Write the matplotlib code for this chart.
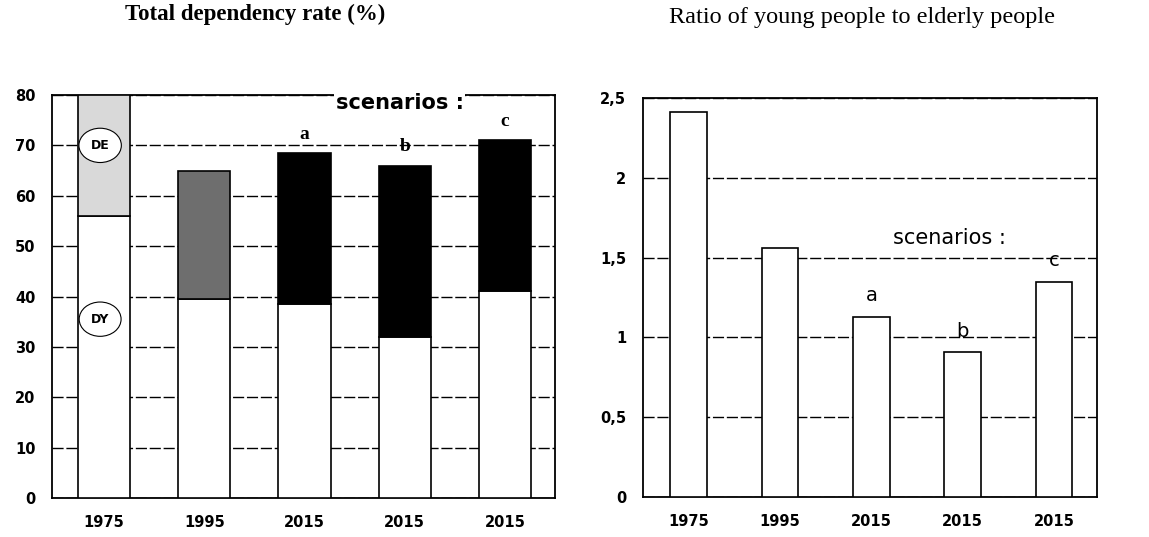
import matplotlib.pyplot as plt
import numpy as np

# data
years = ['1975', '1995', '2015', '2015', '2015']
scen = ['', '', 'a', 'b', 'c']
dy = [56, 39.5, 38.5, 32, 41]          # young dependency (lower part)
total = [80, 65, 68.5, 66, 71]         # total dependency rate
de = [t - y for t, y in zip(total, dy)]  # elderly dependency (upper part)
ratio = [2.41, 1.56, 1.13, 0.91, 1.35]  # young / elderly

de_colors = ['#d9d9d9', '#6e6e6e', 'black', 'black', 'black']

fig = plt.figure(figsize=(11.49, 5.37), dpi=100)
serif = ['Liberation Serif', 'DejaVu Serif']
x = np.arange(len(years))

# ---- left: total dependency rate
ax1 = fig.add_axes([0.0453, 0.0726, 0.4377, 0.7505])
ax1.bar(x, dy, width=0.52, color='white', edgecolor='black', linewidth=1.2, zorder=3)
ax1.bar(x, de, width=0.52, bottom=dy, color=de_colors, edgecolor='black', linewidth=1.2, zorder=3)
ax1.set_ylim(0, 80)
ax1.set_xlim(-0.52, 4.5)
ax1.set_yticks(range(0, 90, 10))
ax1.yaxis.grid(True, color='black', linewidth=1.0, linestyle=(0, (8, 2)))
ax1.set_axisbelow(True)
fig.text(255 / 1149, 1 - 14 / 537, 'Total dependency rate (%)', family=serif,
         fontsize=16.5, fontweight='bold', ha='center', va='center')
for i, s in enumerate(scen):
    if s:
        ax1.text(i, total[i] + 2, s, ha='center', va='bottom', fontsize=14,
                 fontweight='bold', family=serif)
ax1.text(2.95, 78.5, 'scenarios :', ha='center', va='center', fontsize=15,
         family=['DejaVu Sans'], fontweight='bold',
         bbox=dict(facecolor='white', edgecolor='none', pad=1), zorder=5)
for lbl, yv in [('DE', 70), ('DY', 35.5)]:
    ax1.text(-0.04, yv, lbl, ha='center', va='center', fontsize=9, fontweight='bold',
             bbox=dict(boxstyle='ellipse,pad=0.45', facecolor='white', edgecolor='black',
                       linewidth=0.8), zorder=6)

# ---- right: ratio young / elderly
ax2 = fig.add_axes([0.5596, 0.0745, 0.3951, 0.743])
ax2.bar(x, ratio, width=0.4, color='white', edgecolor='black', linewidth=1.2, zorder=3)
ax2.set_ylim(0, 2.5)
ax2.set_xlim(-0.5, 4.47)
ax2.set_yticks([0, 0.5, 1, 1.5, 2, 2.5])
ax2.set_yticklabels(['0', '0,5', '1', '1,5', '2', '2,5'])
ax2.yaxis.grid(True, color='black', linewidth=1.0, linestyle=(0, (8, 2)))
ax2.set_axisbelow(True)
fig.text(862 / 1149, 1 - 18 / 537, 'Ratio of young people to elderly people',
         family=serif, fontsize=17.5, ha='center', va='center')
for i, s in enumerate(scen):
    if s:
        ax2.text(i, ratio[i] + 0.07, s, ha='center', va='bottom', fontsize=14,
                 family='DejaVu Sans')
ax2.text(2.85, 1.62, 'scenarios :', ha='center', va='center', fontsize=15,
         bbox=dict(facecolor='white', edgecolor='none', pad=1), zorder=5)

for ax in (ax1, ax2):
    ax.set_xticks(x)
    ax.set_xticklabels(years)
    ax.tick_params(length=0, labelsize=10.5, pad=12)
    for t in ax.get_xticklabels() + ax.get_yticklabels():
        t.set_fontweight('bold')
    for sp in ax.spines.values():
        sp.set_linewidth(1.3)

fig.savefig('out.png', dpi=100)
